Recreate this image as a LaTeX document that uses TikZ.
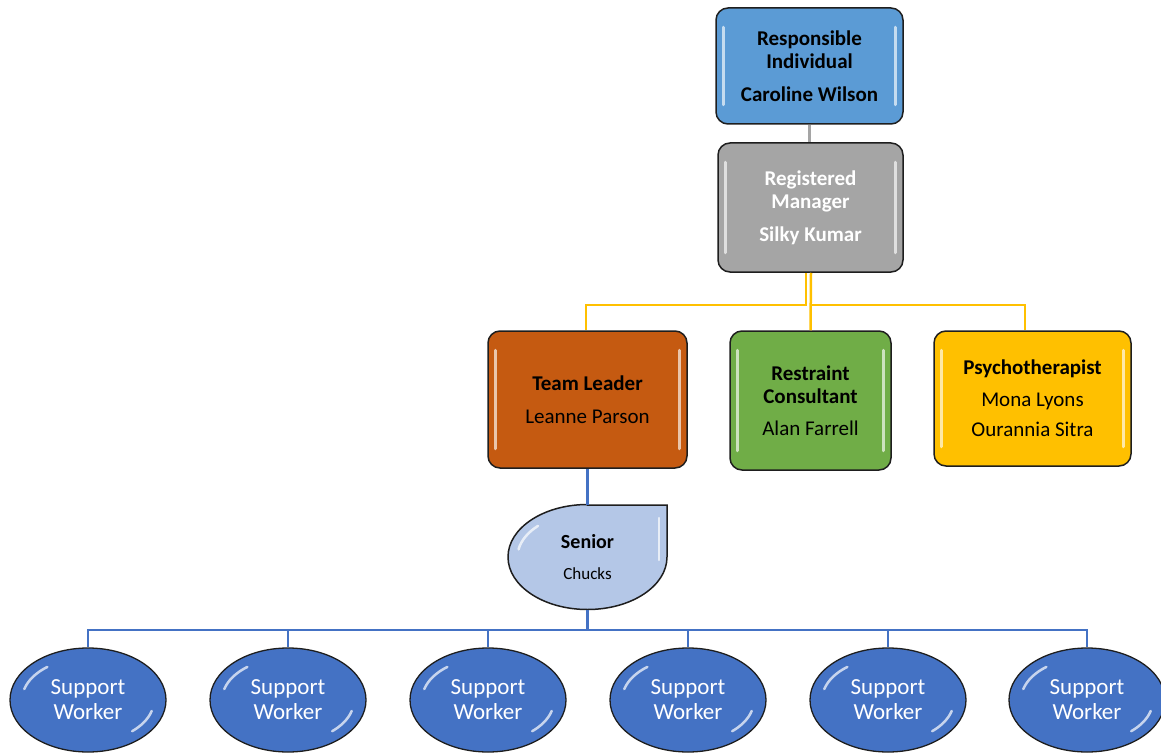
\documentclass[tikz,border=0pt]{standalone}
\usepackage{fontspec}
\setmainfont{Carlito}
\usetikzlibrary{shapes.geometric,calc}
\definecolor{cblue}{HTML}{5B9BD5}
\definecolor{cgray}{HTML}{A5A5A5}
\definecolor{corange}{HTML}{C55A11}
\definecolor{cgreen}{HTML}{70AD47}
\definecolor{cyellow}{HTML}{FFC000}
\definecolor{csenior}{HTML}{B4C7E7}
\definecolor{cdeep}{HTML}{4472C4}
\definecolor{cline}{HTML}{4472C4}
\definecolor{cborder}{HTML}{1E1E1E}
\newcommand\boxgloss[1]{%
  \draw[hl] ($(#1.north west)+(8,20)$) -- ($(#1.south west)+(8,-20)$);
  \draw[hl] ($(#1.north east)+(-8,20)$) -- ($(#1.south east)+(-8,-20)$);}
\begin{document}
\begin{tikzpicture}[x=1pt,y=-1pt,
  box/.style={draw=cborder, line width=1.5pt, rounded corners=12pt, align=center,
    inner sep=0pt, font=\fontsize{21}{23}\selectfont},
  worker/.style={ellipse, draw=cborder, line width=1.3pt, fill=cdeep, text=white,
    minimum width=156pt, minimum height=104pt, inner sep=0pt, align=center,
    font=\fontsize{23}{25}\selectfont},
  hl/.style={white, opacity=0.65, line width=3pt, line cap=round},
  hlb/.style={white, opacity=0.7, line width=2.5pt, line cap=round},
  gline/.style={cgray, line width=3pt},
  yline/.style={cyellow, line width=2.5pt},
  bline/.style={cline, line width=2.5pt},
]
\useasboundingbox (0,0) rectangle (1161,754);

% top boxes
\node[box, fill=cblue, minimum width=187pt, minimum height=116pt] (ri) at (809.5,66)
  {\textbf{Responsible}\\\textbf{Individual}\\[10pt]\textbf{Caroline Wilson}};
\boxgloss{ri}
\node[box, fill=cgray, text=white, minimum width=185pt, minimum height=129pt] (rm) at (810.5,207.5)
  {\textbf{Registered}\\\textbf{Manager}\\[10pt]\textbf{Silky Kumar}};
\boxgloss{rm}

% middle row
\node[box, fill=corange, minimum width=199pt, minimum height=137pt] (tl) at (587.5,399.5)
  {\textbf{Team Leader}\\[10pt]Leanne Parson};
\boxgloss{tl}
\node[box, fill=cgreen, minimum width=161pt, minimum height=139pt] (rc) at (810.5,400.5)
  {\textbf{Restraint}\\\textbf{Consultant}\\[9pt]Alan Farrell};
\boxgloss{rc}
\node[box, fill=cyellow, minimum width=197pt, minimum height=135pt] (ps) at (1032.5,398.5)
  {\textbf{Psychotherapist}\\[9pt]Mona Lyons\\[7pt]Ourannia Sitra};
\boxgloss{ps}

% senior teardrop
\draw[draw=cborder, line width=1.5pt, fill=csenior]
  (587.5,505) -- (667,505) -- (667,557)
  arc[start angle=0, end angle=270, x radius=79.5, y radius=52.5] -- cycle;
\draw[hlb] ($(587.5,557)+({70*cos(190)},{44*sin(190)})$)
  arc[start angle=190, end angle=225, x radius=70, y radius=44];
\draw[hlb] (659,518) -- (659,560);
\node[align=center, inner sep=0pt, minimum width=157pt, minimum height=105pt,
  font=\fontsize{20}{22}\selectfont] (sen) at (587.5,557.5)
  {\textbf{Senior}\\[9pt]{\fontsize{17}{19}\selectfont Chucks}};

% workers
\foreach \i/\x in {1/88,2/288,3/488,4/688,5/888,6/1087}{
  \node[worker] (sw\i) at (\x,700) {Support\\Worker};
  \draw[hlb] ($(\x,700)+({66*cos(195)},{42*sin(195)})$)
    arc[start angle=195, end angle=232, x radius=66, y radius=42];
  \draw[hlb] ($(\x,700)+({66*cos(15)},{42*sin(15)})$)
    arc[start angle=15, end angle=48, x radius=66, y radius=42];
}

% connectors
\draw[gline] (ri.south) -- (ri.south |- rm.north);
\draw[yline] ([xshift=-4.5pt]rm.south) -- ++(0,32) -| ([xshift=-1.5pt]tl.north);
\draw[yline] ([xshift=0.5pt]rm.south) -- (rc.north);
\draw[yline] ([xshift=0.5pt]rm.south) ++(0,32) -| ([xshift=-7.5pt]ps.north);
\draw[cline, line width=3.5pt] (tl.south) -- (sen.north);
\foreach \i in {1,...,6}{
  \draw[bline] (sen.south) -- ++(0,20) -| (sw\i.north);
}
\end{tikzpicture}
\end{document}
